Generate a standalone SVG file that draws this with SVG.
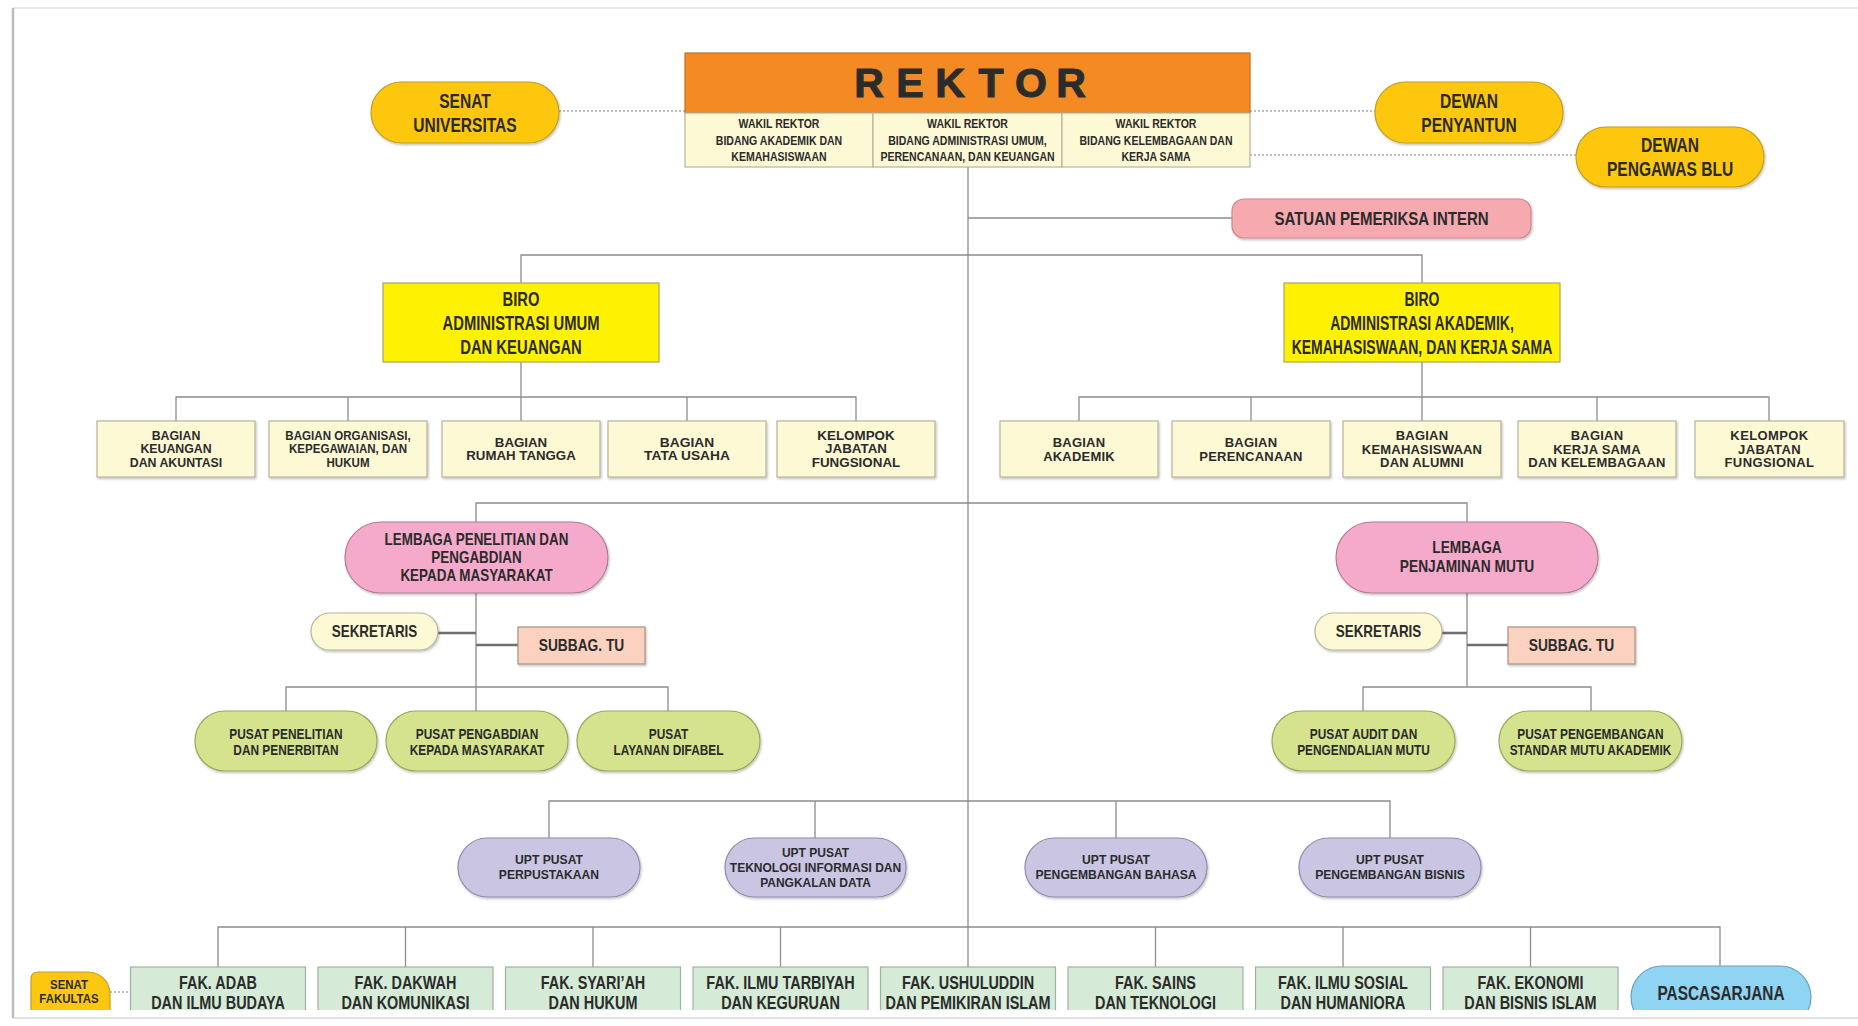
<svg xmlns="http://www.w3.org/2000/svg" width="1858" height="1026" viewBox="0 0 1858 1026">
<defs>
<style>
.t{font-family:"Liberation Sans",Arial,sans-serif;font-weight:700;fill:#2b2b2b;text-anchor:middle}
.ln{stroke:#8c8c8c;stroke-width:1.3;fill:none}
.dbl{stroke:#6e6e6e;stroke-width:2.6;fill:none}
.dot{stroke:#a8a8a8;stroke-width:1.3;stroke-dasharray:2 2;fill:none}
.cream{fill:#fdf9d5;stroke:#b6b39c;stroke-width:1.2}
.gold{fill:#fcc70f;stroke:#c29d22;stroke-width:1.2}
.pinkS{fill:#f6aab0;stroke:#cf878e;stroke-width:1.2}
.biro{fill:#fff200;stroke:#aaa46a;stroke-width:1.2}
.lem{fill:#f5aacb;stroke:#b27b93;stroke-width:1.2}
.peach{fill:#fbd2bf;stroke:#a89282;stroke-width:1.2}
.pusat{fill:#d6e38e;stroke:#97a85c;stroke-width:1.2}
.upt{fill:#c9c5e3;stroke:#8f8bab;stroke-width:1.2}
.fak{fill:#d5ebd7;stroke:#9db39f;stroke-width:1.2}
.pasca{fill:#8fd4f3;stroke:#6b9fbd;stroke-width:1.2}
.sh{filter:url(#shadow)}
</style>
<filter id="shadow" x="-10%" y="-10%" width="120%" height="130%">
<feDropShadow dx="1" dy="1.5" stdDeviation="1" flood-color="#000" flood-opacity="0.25"/>
</filter>
<clipPath id="pageclip"><rect x="0" y="0" width="1858" height="1010"/></clipPath>
</defs>

<!-- paper -->
<rect x="0" y="0" width="1858" height="1026" fill="#ffffff"/>
<line x1="13" y1="8" x2="1858" y2="8" stroke="#e3e3e3" stroke-width="1.5"/>
<line x1="13" y1="1018" x2="1858" y2="1018" stroke="#d8d8d8" stroke-width="1.5"/>
<line x1="13" y1="8" x2="13" y2="1018" stroke="#bcbcbc" stroke-width="2.5"/>

<g id="connectors">
<line class="dot" x1="559" y1="111" x2="685" y2="111"/>
<line class="dot" x1="1250" y1="111" x2="1375" y2="111"/>
<line class="dot" x1="1250" y1="155" x2="1576" y2="155"/>
<line class="dot" x1="110" y1="992" x2="130" y2="992"/>
<line class="ln" x1="968" y1="167" x2="968" y2="967"/>
<line class="ln" x1="968" y1="218" x2="1232" y2="218"/>
<polyline class="ln" points="521,283 521,255 1422,255 1422,283"/>
<line class="ln" x1="521" y1="362" x2="521" y2="421"/>
<polyline class="ln" points="176,421 176,397 856,397 856,421"/>
<line class="ln" x1="348" y1="397" x2="348" y2="421"/>
<line class="ln" x1="687" y1="397" x2="687" y2="421"/>
<line class="ln" x1="1422" y1="362" x2="1422" y2="421"/>
<polyline class="ln" points="1079,421 1079,397 1769,397 1769,421"/>
<line class="ln" x1="1251" y1="397" x2="1251" y2="421"/>
<line class="ln" x1="1597" y1="397" x2="1597" y2="421"/>
<polyline class="ln" points="476,522 476,503 1467,503 1467,522"/>
<line class="ln" x1="476" y1="593" x2="476" y2="711"/>
<polyline class="ln" points="286,711 286,687 668,687 668,711"/>
<line class="dbl" x1="438" y1="633" x2="476" y2="633"/>
<line class="dbl" x1="476" y1="645" x2="518" y2="645"/>
<line class="ln" x1="1467" y1="593" x2="1467" y2="687"/>
<polyline class="ln" points="1363,711 1363,687 1591,687 1591,711"/>
<line class="dbl" x1="1442" y1="633" x2="1467" y2="633"/>
<line class="dbl" x1="1467" y1="645" x2="1508" y2="645"/>
<polyline class="ln" points="549,838 549,801 1390,801 1390,838"/>
<line class="ln" x1="815" y1="801" x2="815" y2="838"/>
<line class="ln" x1="1116" y1="801" x2="1116" y2="838"/>
<polyline class="ln" points="218,967 218,927 1720,927 1720,966"/>
<line class="ln" x1="405.5" y1="927" x2="405.5" y2="967"/>
<line class="ln" x1="593" y1="927" x2="593" y2="967"/>
<line class="ln" x1="780.5" y1="927" x2="780.5" y2="967"/>
<line class="ln" x1="1155.5" y1="927" x2="1155.5" y2="967"/>
<line class="ln" x1="1343" y1="927" x2="1343" y2="967"/>
<line class="ln" x1="1530.5" y1="927" x2="1530.5" y2="967"/>
</g>

<g id="rektor">
<rect x="685" y="53" width="565" height="60" fill="#f38a23" stroke="#c96e1c" stroke-width="1.2"/>
<text class="t" font-size="41" x="869 910 950 991 1031 1071" y="97" fill="#2e2e2e" stroke="#2e2e2e" stroke-width="1.1">REKTOR</text>
</g>
<g id="wakil-rektor-1">
<rect class="cream" x="685" y="113" width="188" height="54"/>
<text class="t" font-size="13.5" transform="translate(779 0) scale(0.78 1)"><tspan x="0" y="128.5">WAKIL REKTOR</tspan><tspan x="0" y="145">BIDANG AKADEMIK DAN</tspan><tspan x="0" y="161.5">KEMAHASISWAAN</tspan></text>
</g>
<g id="wakil-rektor-2">
<rect class="cream" x="873" y="113" width="189" height="54"/>
<text class="t" font-size="13.5" transform="translate(967.5 0) scale(0.78 1)"><tspan x="0" y="128.5">WAKIL REKTOR</tspan><tspan x="0" y="145">BIDANG ADMINISTRASI UMUM,</tspan><tspan x="0" y="161.5">PERENCANAAN, DAN KEUANGAN</tspan></text>
</g>
<g id="wakil-rektor-3">
<rect class="cream" x="1062" y="113" width="188" height="54"/>
<text class="t" font-size="13.5" transform="translate(1156 0) scale(0.78 1)"><tspan x="0" y="128.5">WAKIL REKTOR</tspan><tspan x="0" y="145">BIDANG KELEMBAGAAN DAN</tspan><tspan x="0" y="161.5">KERJA SAMA</tspan></text>
</g>

<g id="senat-universitas">
<rect class="gold sh" x="371" y="82" width="188" height="61" rx="30.5"/>
<text class="t" font-size="20.5" transform="translate(465 0) scale(0.76 1)"><tspan x="0" y="108.5">SENAT</tspan><tspan x="0" y="132">UNIVERSITAS</tspan></text>
</g>
<g id="dewan-penyantun">
<rect class="gold sh" x="1375" y="82" width="188" height="61" rx="30.5"/>
<text class="t" font-size="20.5" transform="translate(1469 0) scale(0.76 1)"><tspan x="0" y="108.5">DEWAN</tspan><tspan x="0" y="132">PENYANTUN</tspan></text>
</g>
<g id="dewan-pengawas-blu">
<rect class="gold sh" x="1576" y="127" width="188" height="60" rx="30"/>
<text class="t" font-size="20.5" transform="translate(1670 0) scale(0.76 1)"><tspan x="0" y="152.5">DEWAN</tspan><tspan x="0" y="176">PENGAWAS BLU</tspan></text>
</g>
<g id="satuan-pemeriksa-intern">
<rect class="pinkS sh" x="1232" y="199" width="299" height="39" rx="12"/>
<text class="t" font-size="19" transform="translate(1381.5 0) scale(0.79 1)"><tspan x="0" y="225">SATUAN PEMERIKSA INTERN</tspan></text>
</g>

<g id="biro-administrasi-umum">
<rect class="biro" x="383" y="283" width="276" height="79"/>
<text class="t" font-size="20" transform="translate(521 0) scale(0.74 1)"><tspan x="0" y="306">BIRO</tspan><tspan x="0" y="330">ADMINISTRASI UMUM</tspan><tspan x="0" y="354">DAN KEUANGAN</tspan></text>
</g>
<g id="biro-administrasi-akademik">
<rect class="biro" x="1284" y="283" width="276" height="79"/>
<text class="t" font-size="20" transform="translate(1422 0) scale(0.70 1)"><tspan x="0" y="306">BIRO</tspan><tspan x="0" y="330">ADMINISTRASI AKADEMIK,</tspan><tspan x="0" y="354">KEMAHASISWAAN, DAN KERJA SAMA</tspan></text>
</g>

<g id="bagian-keuangan">
<rect class="cream sh" x="97" y="421" width="158" height="56"/>
<text class="t" font-size="13" transform="translate(176 0) scale(0.95 1)"><tspan x="0" y="440">BAGIAN</tspan><tspan x="0" y="453.5">KEUANGAN</tspan><tspan x="0" y="467">DAN AKUNTASI</tspan></text>
</g>
<g id="bagian-organisasi">
<rect class="cream sh" x="269" y="421" width="158" height="56"/>
<text class="t" font-size="13" transform="translate(348 0) scale(0.89 1)"><tspan x="0" y="440">BAGIAN ORGANISASI,</tspan><tspan x="0" y="453.5">KEPEGAWAIAN, DAN</tspan><tspan x="0" y="467">HUKUM</tspan></text>
</g>
<g id="bagian-rumah-tangga">
<rect class="cream sh" x="442" y="421" width="158" height="56"/>
<text class="t" font-size="13" transform="translate(521 0) scale(1.02 1)"><tspan x="0" y="447">BAGIAN</tspan><tspan x="0" y="460.5">RUMAH TANGGA</tspan></text>
</g>
<g id="bagian-tata-usaha">
<rect class="cream sh" x="608" y="421" width="158" height="56"/>
<text class="t" font-size="13" transform="translate(687 0) scale(1.06 1)"><tspan x="0" y="447">BAGIAN</tspan><tspan x="0" y="460.5">TATA USAHA</tspan></text>
</g>
<g id="kelompok-jabatan-fungsional-1">
<rect class="cream sh" x="777" y="421" width="158" height="56"/>
<text class="t" font-size="13" transform="translate(856 0) scale(1.03 1)"><tspan x="0" y="440">KELOMPOK</tspan><tspan x="0" y="453.5">JABATAN</tspan><tspan x="0" y="467">FUNGSIONAL</tspan></text>
</g>

<g id="bagian-akademik">
<rect class="cream sh" x="1000" y="421" width="158" height="56"/>
<text class="t" font-size="13" letter-spacing="0.2"><tspan x="1079" y="447">BAGIAN</tspan><tspan x="1079" y="460.5">AKADEMIK</tspan></text>
</g>
<g id="bagian-perencanaan">
<rect class="cream sh" x="1172" y="421" width="158" height="56"/>
<text class="t" font-size="13" letter-spacing="0.2"><tspan x="1251" y="447">BAGIAN</tspan><tspan x="1251" y="460.5">PERENCANAAN</tspan></text>
</g>
<g id="bagian-kemahasiswaan">
<rect class="cream sh" x="1343" y="421" width="158" height="56"/>
<text class="t" font-size="13" letter-spacing="0.2"><tspan x="1422" y="440">BAGIAN</tspan><tspan x="1422" y="453.5">KEMAHASISWAAN</tspan><tspan x="1422" y="467">DAN ALUMNI</tspan></text>
</g>
<g id="bagian-kerja-sama">
<rect class="cream sh" x="1518" y="421" width="158" height="56"/>
<text class="t" font-size="13" letter-spacing="0.2"><tspan x="1597" y="440">BAGIAN</tspan><tspan x="1597" y="453.5">KERJA SAMA</tspan><tspan x="1597" y="467">DAN KELEMBAGAAN</tspan></text>
</g>
<g id="kelompok-jabatan-fungsional-2">
<rect class="cream sh" x="1695" y="421" width="149" height="56"/>
<text class="t" font-size="13" letter-spacing="0.4"><tspan x="1769.5" y="440">KELOMPOK</tspan><tspan x="1769.5" y="453.5">JABATAN</tspan><tspan x="1769.5" y="467">FUNGSIONAL</tspan></text>
</g>

<g id="lppm">
<rect class="lem sh" x="345" y="522" width="263" height="71" rx="35.5"/>
<text class="t" font-size="16" transform="translate(476.5 0) scale(0.84 1)"><tspan x="0" y="545">LEMBAGA PENELITIAN DAN</tspan><tspan x="0" y="563">PENGABDIAN</tspan><tspan x="0" y="581">KEPADA MASYARAKAT</tspan></text>
</g>
<g id="lpm">
<rect class="lem sh" x="1336" y="522" width="262" height="71" rx="35.5"/>
<text class="t" font-size="16" transform="translate(1467 0) scale(0.86 1)"><tspan x="0" y="553">LEMBAGA</tspan><tspan x="0" y="572">PENJAMINAN MUTU</tspan></text>
</g>

<g id="sekretaris-lppm">
<rect class="cream sh" x="311" y="613" width="127" height="37" rx="18.5"/>
<text class="t" font-size="16" transform="translate(374.5 0) scale(0.84 1)"><tspan x="0" y="637.5">SEKRETARIS</tspan></text>
</g>
<g id="subbag-tu-lppm">
<rect class="peach sh" x="518" y="627" width="127" height="37"/>
<text class="t" font-size="16" transform="translate(581.5 0) scale(0.86 1)"><tspan x="0" y="651.5">SUBBAG. TU</tspan></text>
</g>
<g id="sekretaris-lpm">
<rect class="cream sh" x="1315" y="613" width="127" height="37" rx="18.5"/>
<text class="t" font-size="16" transform="translate(1378.5 0) scale(0.84 1)"><tspan x="0" y="637.5">SEKRETARIS</tspan></text>
</g>
<g id="subbag-tu-lpm">
<rect class="peach sh" x="1508" y="627" width="127" height="37"/>
<text class="t" font-size="16" transform="translate(1571.5 0) scale(0.86 1)"><tspan x="0" y="651.5">SUBBAG. TU</tspan></text>
</g>

<g id="pusat-penelitian">
<rect class="pusat sh" x="195" y="711" width="182" height="60" rx="30"/>
<text class="t" font-size="14.5" transform="translate(286 0) scale(0.82 1)"><tspan x="0" y="739">PUSAT PENELITIAN</tspan><tspan x="0" y="755">DAN PENERBITAN</tspan></text>
</g>
<g id="pusat-pengabdian">
<rect class="pusat sh" x="386" y="711" width="182" height="60" rx="30"/>
<text class="t" font-size="14.5" transform="translate(477 0) scale(0.82 1)"><tspan x="0" y="739">PUSAT PENGABDIAN</tspan><tspan x="0" y="755">KEPADA MASYARAKAT</tspan></text>
</g>
<g id="pusat-layanan-difabel">
<rect class="pusat sh" x="577" y="711" width="183" height="60" rx="30"/>
<text class="t" font-size="14.5" transform="translate(668.5 0) scale(0.82 1)"><tspan x="0" y="739">PUSAT</tspan><tspan x="0" y="755">LAYANAN DIFABEL</tspan></text>
</g>
<g id="pusat-audit">
<rect class="pusat sh" x="1272" y="711" width="183" height="60" rx="30"/>
<text class="t" font-size="14.5" transform="translate(1363.5 0) scale(0.82 1)"><tspan x="0" y="739">PUSAT AUDIT DAN</tspan><tspan x="0" y="755">PENGENDALIAN MUTU</tspan></text>
</g>
<g id="pusat-pengembangan-standar">
<rect class="pusat sh" x="1499" y="711" width="183" height="60" rx="30"/>
<text class="t" font-size="14.5" transform="translate(1590.5 0) scale(0.82 1)"><tspan x="0" y="739">PUSAT PENGEMBANGAN</tspan><tspan x="0" y="755">STANDAR MUTU AKADEMIK</tspan></text>
</g>

<g id="upt-perpustakaan">
<rect class="upt sh" x="458" y="838" width="182" height="59" rx="29.5"/>
<text class="t" font-size="13.5" transform="translate(549 0) scale(0.9 1)"><tspan x="0" y="864">UPT PUSAT</tspan><tspan x="0" y="879">PERPUSTAKAAN</tspan></text>
</g>
<g id="upt-tipd">
<rect class="upt sh" x="725" y="838" width="181" height="59" rx="29.5"/>
<text class="t" font-size="13.5" transform="translate(815.5 0) scale(0.89 1)"><tspan x="0" y="857">UPT PUSAT</tspan><tspan x="0" y="872">TEKNOLOGI INFORMASI DAN</tspan><tspan x="0" y="887">PANGKALAN DATA</tspan></text>
</g>
<g id="upt-bahasa">
<rect class="upt sh" x="1025" y="838" width="182" height="59" rx="29.5"/>
<text class="t" font-size="13.5" transform="translate(1116 0) scale(0.9 1)"><tspan x="0" y="864">UPT PUSAT</tspan><tspan x="0" y="879">PENGEMBANGAN BAHASA</tspan></text>
</g>
<g id="upt-bisnis">
<rect class="upt sh" x="1299" y="838" width="182" height="59" rx="29.5"/>
<text class="t" font-size="13.5" transform="translate(1390 0) scale(0.9 1)"><tspan x="0" y="864">UPT PUSAT</tspan><tspan x="0" y="879">PENGEMBANGAN BISNIS</tspan></text>
</g>

<g id="bottom-row" clip-path="url(#pageclip)">
<g id="senat-fakultas">
<path class="gold" d="M31,979 Q31,972 38,972 H88 A22,22 0 0 1 110,994 V1030 H31 Z"/>
<text class="t" font-size="13" transform="translate(69 0) scale(0.88 1)"><tspan x="0" y="989">SENAT</tspan><tspan x="0" y="1003">FAKULTAS</tspan></text>
</g>
<g id="fak-adab">
<rect class="fak" x="130.5" y="967" width="175" height="70"/>
<text class="t" font-size="19" transform="translate(218 0) scale(0.76 1)"><tspan x="0" y="989">FAK. ADAB</tspan><tspan x="0" y="1009">DAN ILMU BUDAYA</tspan></text>
</g>
<g id="fak-dakwah">
<rect class="fak" x="318" y="967" width="175" height="70"/>
<text class="t" font-size="19" transform="translate(405.5 0) scale(0.76 1)"><tspan x="0" y="989">FAK. DAKWAH</tspan><tspan x="0" y="1009">DAN KOMUNIKASI</tspan></text>
</g>
<g id="fak-syariah">
<rect class="fak" x="505.5" y="967" width="175" height="70"/>
<text class="t" font-size="19" transform="translate(593 0) scale(0.76 1)"><tspan x="0" y="989">FAK. SYARI’AH</tspan><tspan x="0" y="1009">DAN HUKUM</tspan></text>
</g>
<g id="fak-tarbiyah">
<rect class="fak" x="693" y="967" width="175" height="70"/>
<text class="t" font-size="19" transform="translate(780.5 0) scale(0.76 1)"><tspan x="0" y="989">FAK. ILMU TARBIYAH</tspan><tspan x="0" y="1009">DAN KEGURUAN</tspan></text>
</g>
<g id="fak-ushuluddin">
<rect class="fak" x="880.5" y="967" width="175" height="70"/>
<text class="t" font-size="19" transform="translate(968 0) scale(0.76 1)"><tspan x="0" y="989">FAK. USHULUDDIN</tspan><tspan x="0" y="1009">DAN PEMIKIRAN ISLAM</tspan></text>
</g>
<g id="fak-sains">
<rect class="fak" x="1068" y="967" width="175" height="70"/>
<text class="t" font-size="19" transform="translate(1155.5 0) scale(0.76 1)"><tspan x="0" y="989">FAK. SAINS</tspan><tspan x="0" y="1009">DAN TEKNOLOGI</tspan></text>
</g>
<g id="fak-ilmu-sosial">
<rect class="fak" x="1255.5" y="967" width="175" height="70"/>
<text class="t" font-size="19" transform="translate(1343 0) scale(0.76 1)"><tspan x="0" y="989">FAK. ILMU SOSIAL</tspan><tspan x="0" y="1009">DAN HUMANIORA</tspan></text>
</g>
<g id="fak-ekonomi">
<rect class="fak" x="1443" y="967" width="175" height="70"/>
<text class="t" font-size="19" transform="translate(1530.5 0) scale(0.76 1)"><tspan x="0" y="989">FAK. EKONOMI</tspan><tspan x="0" y="1009">DAN BISNIS ISLAM</tspan></text>
</g>
<g id="pascasarjana">
<rect class="pasca" x="1631" y="966" width="180" height="62" rx="31"/>
<text class="t" font-size="20" transform="translate(1721 0) scale(0.77 1)"><tspan x="0" y="1000">PASCASARJANA</tspan></text>
</g>
</g>
</svg>
